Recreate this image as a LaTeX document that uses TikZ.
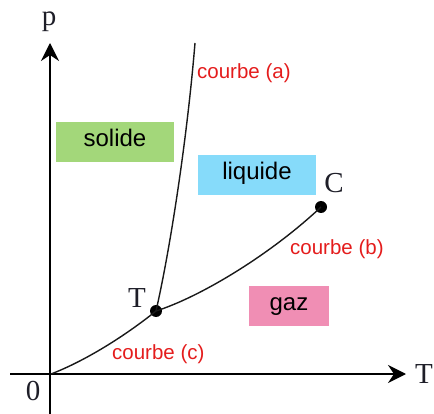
\documentclass[tikz,border=0pt]{standalone}
\usepackage{fontspec}
\setmainfont{Liberation Serif}
\setsansfont{Liberation Sans}
\usetikzlibrary{arrows.meta}
\definecolor{redtxt}{RGB}{228,28,28}
\definecolor{solgreen}{RGB}{163,215,122}
\definecolor{liqblue}{RGB}{134,219,250}
\definecolor{gazpink}{RGB}{240,142,180}
\definecolor{lbl}{RGB}{30,30,40}
\tikzset{
  axis/.style={line width=1.8pt, -{Stealth[length=18pt,width=18pt,inset=6pt]}},
  curve/.style={line width=1.4pt, black!90},
  dot/.style={circle, fill=black, inner sep=0pt, minimum size=12pt},
  letter/.style={font=\fontsize{29}{31}\selectfont, text=lbl, inner sep=0pt},
  courbe/.style={font=\sffamily\fontsize{20.5}{22}\selectfont, text=redtxt, inner sep=0pt},
  phase/.style={font=\sffamily\fontsize{24}{26}\selectfont, inner sep=0pt, text height=14pt, text depth=4pt},
}
\begin{document}
\begin{tikzpicture}[x=1pt,y=-1pt]
\useasboundingbox (0,0) rectangle (434,414);
% phase boxes
\node[phase, fill=solgreen, minimum width=118pt, minimum height=40pt] (sol) at (115,142) {solide};
\node[phase, fill=liqblue, minimum width=118pt, minimum height=40pt] (liq) at (257,175) {liquide};
\node[phase, fill=gazpink, minimum width=80pt, minimum height=40pt] (gaz) at (289,306) {gaz};
% axes
\coordinate (O) at (51,374);
\coordinate (ybot) at (50,414);
\coordinate (ytop) at (50,43);
\coordinate (xl) at (10,374);
\coordinate (xr) at (406,374);
\draw[axis] (ybot) -- (ytop);
\draw[axis] (xl) -- (xr);
% points
\node[dot] (Tp) at (156,311) {};
\node[dot] (Cp) at (321,207) {};
\coordinate (atop) at (195,43);
% curves
\draw[curve] (O) .. controls (85,361) and (125,336) .. (Tp.center);
\draw[curve] (Tp.center) .. controls (200,297) and (270,255) .. (Cp.center);
\draw[curve] (Tp.center) .. controls (170,250) and (187,140) .. (atop);
% labels
\node[letter, anchor=base] (plbl) at (49,26) {p};
\node[letter, anchor=base east] (Tax) at (433,383) {T};
\node[letter, anchor=base] (zero) at (33,400) {0};
\node[letter, anchor=base] (Tlbl) at (137,308) {T};
\node[letter, anchor=base] (Clbl) at (334,193) {C};
\node[courbe, anchor=base west] (ca) at (197,79) {courbe (a)};
\node[courbe, anchor=base west] (cb) at (290,255) {courbe (b)};
\node[courbe, anchor=base west] (cc) at (112,359) {courbe (c)};
\end{tikzpicture}
\end{document}
